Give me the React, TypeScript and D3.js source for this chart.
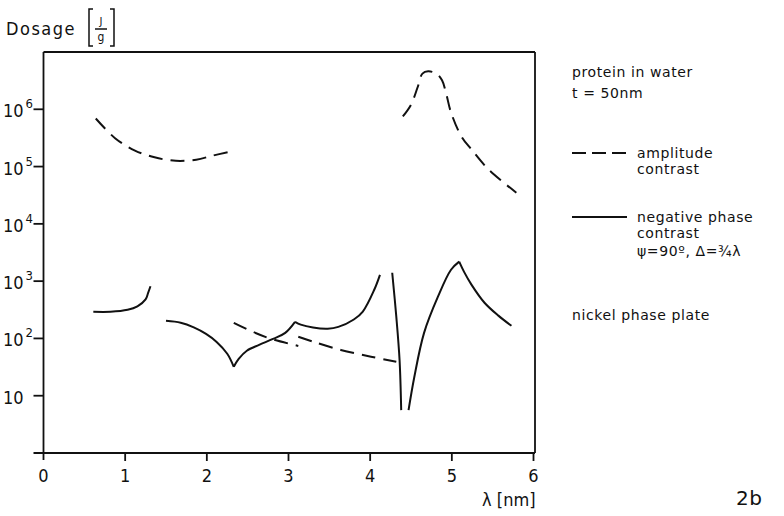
import React from 'react';
import * as d3 from 'd3';

// wavelength (nm) vs dose (J/g)
const ampLow = [[0.64, 6.9e5], [0.88, 3.1e5], [1.12, 1.9e5], [1.36, 1.45e5], [1.62, 1.26e5], [1.87, 1.32e5], [2.07, 1.55e5], [2.27, 1.8e5]];
const ampMidA = [[2.33, 187], [2.56, 131], [2.79, 98], [3.12, 74]];
const ampMidB = [[3.12, 107], [3.31, 87], [3.64, 63], [4.01, 48], [4.32, 39]];
const ampHigh = [[4.4, 7.5e5], [4.5, 1.2e6], [4.58, 2.4e6], [4.64, 4.2e6], [4.71, 4.6e6], [4.81, 4.2e6], [4.88, 3.2e6], [4.93, 1.9e6], [4.99, 8.8e5], [5.12, 3.3e5], [5.24, 2.0e5], [5.45, 8.9e4], [5.79, 3.5e4]];

const phaseA = [[0.61, 292], [0.82, 292], [1.03, 316], [1.15, 363], [1.25, 479], [1.28, 617], [1.31, 813]];
const phaseB1 = [[1.5, 203], [1.68, 188], [1.84, 156], [1.99, 120], [2.12, 87], [2.25, 54], [2.33, 32]];
const phaseB2 = [[2.33, 32], [2.39, 44], [2.49, 61], [2.64, 77], [2.81, 98], [2.96, 125], [3.08, 195]];
const phaseB3 = [[3.08, 195], [3.15, 174], [3.3, 155], [3.48, 148], [3.61, 159], [3.8, 214], [3.91, 295], [4.05, 708], [4.12, 1290]];
const phaseC = [[4.27, 1400], [4.32, 240], [4.36, 42], [4.38, 5.6]];
const phaseD1 = [[4.47, 5.6], [4.54, 21], [4.66, 125], [4.83, 535], [4.99, 1580], [5.09, 2190]];
const phaseD2 = [[5.09, 2190], [5.15, 1450], [5.24, 870], [5.4, 420], [5.57, 250], [5.73, 166]];

const amplitudeSegments = [ampLow, ampMidA, ampMidB, ampHigh];
const phaseSegments = [phaseA, phaseB1, phaseB2, phaseB3, phaseC, phaseD1, phaseD2];

const xTicks = [0, 1, 2, 3, 4, 5, 6];
const yTicks = [10, 100, 1e3, 1e4, 1e5, 1e6];

const axisFont = "'DejaVu Sans Condensed', 'DejaVu Sans', sans-serif";
const legendFont = "'DejaVu Sans', sans-serif";

export default function App() {
  const x = d3.scaleLinear().domain([0, 6]).range([43.5, 533.5]);
  const y = d3.scaleLog().domain([1, 1e7]).range([453, 52]);

  const line = d3
    .line<number[]>()
    .x(d => x(d[0]))
    .y(d => y(d[1]))
    .curve(d3.curveCatmullRom.alpha(0.5));

  const left = x(0);
  const right = x(6) + 1.5;
  const top = y(1e7);
  const bottom = y(1);

  return (
    <svg width={784} height={516} style={{ position: 'absolute', left: 0, top: 0, background: '#fff' }}>
      {/* frame and axes */}
      <g stroke="#111" strokeWidth={1.8} fill="none">
        <line x1={left} y1={top} x2={right} y2={top} />
        <line x1={right} y1={top} x2={right} y2={bottom} />
        <line x1={left} y1={top} x2={left} y2={bottom + 7} />
        <line x1={left - 10} y1={bottom} x2={right} y2={bottom} />
        {yTicks.map(t => (
          <line key={t} x1={left - 10} y1={y(t)} x2={left} y2={y(t)} />
        ))}
        {xTicks.slice(1).map(t => (
          <line key={t} x1={x(t)} y1={bottom} x2={x(t)} y2={bottom + 8} />
        ))}
      </g>

      {/* y tick labels */}
      <g fontFamily={axisFont} fontSize={18} fill="#111">
        {yTicks.map(t => {
          const exp = Math.round(Math.log10(t));
          return (
            <text key={t} x={3} y={y(t) + 8}>
              10
              {exp > 1 && (
                <tspan fontSize={13} dy={-9} dx={2}>{exp}</tspan>
              )}
            </text>
          );
        })}
      </g>

      {/* x tick labels */}
      <g fontFamily={axisFont} fontSize={18} fill="#111" textAnchor="middle">
        {xTicks.map(t => (
          <text key={t} x={x(t)} y={482}>{t}</text>
        ))}
        <text x={x(6) + 2} y={506} textAnchor="end">λ [nm]</text>
      </g>

      {/* y axis title */}
      <g fill="#111" fontFamily={axisFont}>
        <text x={6} y={35} fontSize={18} letterSpacing={1.5}>Dosage</text>
        <text x={101} y={25} fontSize={11} textAnchor="middle">J</text>
        <text x={101} y={41} fontSize={12} textAnchor="middle">g</text>
        <g stroke="#111" strokeWidth={1.5} fill="none">
          <line x1={95} y1={29} x2={107} y2={29} />
          <path d="M93,9 L89,9 L89,46 L93,46" />
          <path d="M110,9 L114,9 L114,46 L110,46" />
        </g>
      </g>

      {/* curves */}
      <g fill="none" stroke="#111" strokeWidth={2} strokeLinejoin="round">
        {amplitudeSegments.map((seg, i) => (
          <path key={'a' + i} d={line(seg) || ''} strokeDasharray="14 8" />
        ))}
        {phaseSegments.map((seg, i) => (
          <path key={'p' + i} d={line(seg) || ''} />
        ))}
      </g>

      {/* legend */}
      <g fontFamily={legendFont} fontSize={14} fill="#111" letterSpacing={0.6}>
        <text x={572} y={77}>protein in water</text>
        <text x={572} y={98}>t = 50nm</text>
        <line x1={572} y1={153} x2={627} y2={153} stroke="#111" strokeWidth={1.8} strokeDasharray="14 6" />
        <text x={637} y={158}>amplitude</text>
        <text x={637} y={174}>contrast</text>
        <line x1={572} y1={217} x2={627} y2={217} stroke="#111" strokeWidth={1.8} />
        <text x={637} y={222}>negative phase</text>
        <text x={637} y={238}>contrast</text>
        <text x={637} y={256}>ψ=90º, Δ=¾λ</text>
        <text x={572} y={320}>nickel phase plate</text>
        <text x={736} y={505} fontSize={20}>2b</text>
      </g>
    </svg>
  );
}
